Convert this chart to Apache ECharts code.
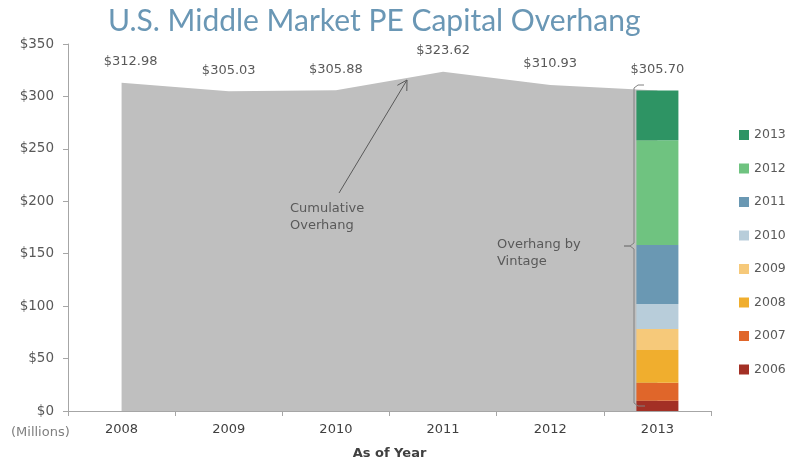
<!DOCTYPE html>
<html>
<head>
<meta charset="utf-8">
<script src="https://cdn.jsdelivr.net/npm/echarts@6/dist/echarts.min.js"></script>
<style>
  html, body { margin: 0; padding: 0; background: #fff; }
  #main { width: 791px; height: 468px; }
</style>
</head>
<body>
<div id="main"></div>
<script>
// years on the x axis
var years = ['2008', '2009', '2010', '2011', '2012', '2013'];
// cumulative overhang, $ millions
var overhang = [312.98, 305.03, 305.88, 323.62, 310.93, 305.70];
// 2013 overhang split by vintage
var vintages = ['2006', '2007', '2008', '2009', '2010', '2011', '2012', '2013'];
var vintageValues = [9.8, 17.2, 31.2, 20.0, 23.8, 56.2, 100.1, 47.4];
var vintageColors = ['#a33025', '#e0662a', '#f0ae2e', '#f6c97a', '#b8cdda', '#6a98b3', '#6fc380', '#2e9464'];
var yTicks = [0, 350, 50];

var txt = '#595959';
var font = 'DejaVu Sans';

var series = [{
  name: 'Cumulative',
  type: 'line',
  data: overhang.map(function (v, i) {
    var d = { value: v };
    if (i === 0) d.label = { offset: [9, 0] };
    return d;
  }),
  symbol: 'circle',
  symbolSize: 1,
  showSymbol: true,
  itemStyle: { color: 'rgba(0,0,0,0)' },
  lineStyle: { width: 0 },
  areaStyle: { color: '#bfbfbf', opacity: 1 },
  z: 1,
  label: {
    show: true,
    position: 'top',
    distance: 14,
    color: txt,
    fontFamily: font,
    fontSize: 13,
    formatter: function (p) { return '$' + p.value.toFixed(2); }
  }
}];

vintages.forEach(function (name, k) {
  series.push({
    name: name,
    type: 'bar',
    stack: 'vintage',
    barWidth: 42,
    itemStyle: { color: vintageColors[k] },
    z: 3,
    data: years.map(function (y) { return y === '2013' ? vintageValues[k] : '-'; })
  });
});

// arrow for "Cumulative Overhang"
var tail = [339, 193], tip = [407, 80];
var dx = tip[0] - tail[0], dy = tip[1] - tail[1];
var len = Math.sqrt(dx * dx + dy * dy);
var ux = dx / len, uy = dy / len;
function head(sign) {
  var a = sign * Math.PI / 6, h = 11;
  var cx = -ux, cy = -uy;
  return [tip[0] + h * (cx * Math.cos(a) - cy * Math.sin(a)),
          tip[1] + h * (cx * Math.sin(a) + cy * Math.cos(a))];
}

var chart = echarts.init(document.getElementById('main'));
chart.setOption({
  animation: false,
  title: {
    text: 'U.S. Middle Market PE Capital Overhang',
    left: 103,
    top: 1,
    textStyle: { color: '#6a97b5', fontFamily: 'Lato', fontSize: 30, fontWeight: 'normal' }
  },
  legend: {
    data: vintages.slice().reverse(),
    orient: 'vertical',
    left: 734,
    top: 123,
    itemWidth: 10,
    itemHeight: 10,
    itemGap: 19.5,
    icon: 'rect',
    textStyle: { color: txt, fontFamily: font, fontSize: 12.5, lineHeight: 14 }
  },
  grid: { left: 68, right: 80, top: 44, bottom: 57, containLabel: false },
  xAxis: {
    type: 'category',
    data: years,
    boundaryGap: true,
    name: 'As of Year',
    nameLocation: 'middle',
    nameGap: 36,
    nameTextStyle: { color: '#404040', fontFamily: font, fontSize: 13, fontWeight: 'bold' },
    axisLine: { lineStyle: { color: '#a6a6a6' } },
    axisTick: { show: true, length: 5, lineStyle: { color: '#a6a6a6' } },
    axisLabel: { color: '#404040', fontFamily: font, fontSize: 13, margin: 12 }
  },
  yAxis: {
    type: 'value',
    min: yTicks[0],
    max: yTicks[1],
    interval: yTicks[2],
    splitLine: { show: false },
    axisLine: { show: true, lineStyle: { color: '#a6a6a6' } },
    axisTick: { show: true, length: 5, lineStyle: { color: '#a6a6a6' } },
    axisLabel: { color: txt, fontFamily: font, fontSize: 13.5, margin: 14, formatter: function (v) { return '$' + v; } }
  },
  graphic: [
    { type: 'text', left: 11, top: 426, z: 10, style: { text: '(Millions)', fill: '#7f7f7f', font: '13px "DejaVu Sans"' } },
    { type: 'text', left: 290, top: 200, z: 10, style: { text: 'Cumulative\nOverhang', fill: txt, font: '13px "DejaVu Sans"', lineHeight: 17 } },
    { type: 'text', left: 497, top: 236, z: 10, style: { text: 'Overhang by\nVintage', fill: txt, font: '13px "DejaVu Sans"', lineHeight: 17 } },
    { type: 'line', z: 10, shape: { x1: tail[0], y1: tail[1], x2: tip[0], y2: tip[1] }, style: { stroke: '#595959', lineWidth: 1 } },
    { type: 'polyline', z: 10, shape: { points: [head(1), tip, head(-1)] }, style: { stroke: '#595959', lineWidth: 1, fill: null } },
    { type: 'polyline', z: 10, shape: { points: [[644, 85], [638, 85], [634, 88], [634, 243], [630, 246], [624, 246], [630, 246], [634, 249], [634, 403], [638, 406], [645, 406]] },
      style: { stroke: '#808080', lineWidth: 1, fill: null } }
  ],
  series: series
});
</script>
</body>
</html>
